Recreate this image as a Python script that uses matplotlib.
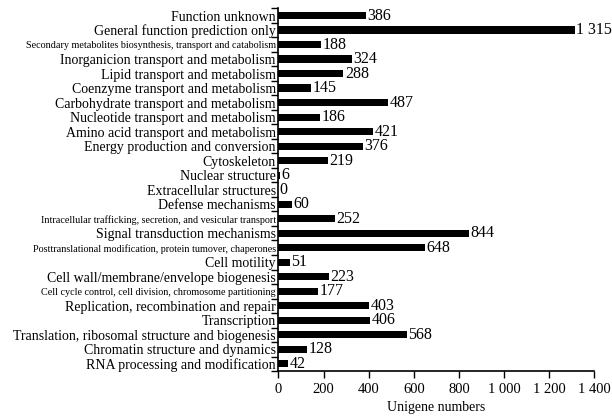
import numpy as np
import matplotlib
matplotlib.use('Agg')
from matplotlib import pyplot as plt

# categories from top to bottom
categories = ['Function unknown',
              'General function prediction only',
              'Secondary metabolites biosynthesis, transport and catabolism',
              'Inorganicion transport and metabolism',
              'Lipid transport and metabolism',
              'Coenzyme transport and metabolism',
              'Carbohydrate transport and metabolism',
              'Nucleotide transport and metabolism',
              'Amino acid transport and metabolism',
              'Energy production and conversion',
              'Cytoskeleton',
              'Nuclear structure',
              'Extracellular structures',
              'Defense mechanisms',
              'Intracellular trafficking, secretion, and vesicular transport',
              'Signal transduction mechanisms',
              'Posttranslational modification, protein tumover, chaperones',
              'Cell motility',
              'Cell wall/membrane/envelope biogenesis',
              'Cell cycle control, cell division, chromosome partitioning',
              'Replication, recombination and repair',
              'Transcription',
              'Translation, ribosomal structure and biogenesis',
              'Chromatin structure and dynamics',
              'RNA processing and modification']
values = [386, 1315, 188, 324, 288, 145, 487, 186, 421, 376, 219, 6, 0, 60,
          252, 844, 648, 51, 223, 177, 403, 406, 568, 128, 42]
small = ['Secondary metabolites biosynthesis, transport and catabolism',
         'Intracellular trafficking, secretion, and vesicular transport',
         'Posttranslational modification, protein tumover, chaperones',
         'Cell cycle control, cell division, chromosome partitioning']
xticks = [0, 200, 400, 600, 800, 1000, 1200, 1400]
xticklabels = ['0', '200', '400', '600', '800', '1 000', '1 200', '1 400']

plt.rcParams['font.family'] = 'Liberation Serif'

fig = plt.figure(figsize=(6.12, 4.16), dpi=100)
ax = fig.add_axes([0.455, 0.108, 0.516, 0.872])

n = len(categories)
ypos = np.arange(n)[::-1]
ax.barh(ypos, values, height=0.5, color='black')

for y, v in zip(ypos, values):
    lab = f'{v:,}'.replace(',', ' ')
    ax.annotate(lab, (v, y), xytext=(1, 0), textcoords='offset points',
                va='center', ha='left', fontsize=11.5)

ax.set_xlim(0, 1400)
ax.set_ylim(-0.5, n - 0.5)
ax.set_xticks(xticks)
ax.set_xticklabels(xticklabels, fontsize=10.5)
ax.set_xlabel('Unigene numbers', fontsize=10, labelpad=4)

ax.set_yticks(ypos)
ax.set_yticklabels(categories)
for t in ax.get_yticklabels():
    if t.get_text() in small:
        t.set_fontsize(7.3)
    else:
        t.set_fontsize(10)
ax.tick_params(axis='y', length=0, pad=2)
ax.set_yticks(np.arange(n + 1) - 0.5, minor=True)
ax.tick_params(axis='y', which='minor', length=5, width=1)
ax.tick_params(axis='x', length=5, width=1, direction='out')

for s in ['top', 'right']:
    ax.spines[s].set_visible(False)
for s in ['left', 'bottom']:
    ax.spines[s].set_linewidth(1.2)

plt.savefig('out.png', dpi=100)
